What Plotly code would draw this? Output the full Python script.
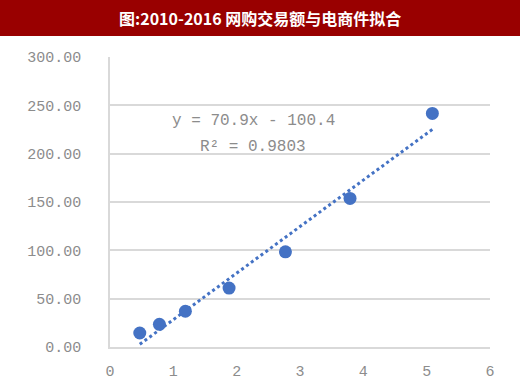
import numpy as np
import plotly.graph_objects as go

x_vals = [0.47, 0.78, 1.19, 1.88, 2.77, 3.79, 5.09]
y_vals = [14.5, 23.5, 37.0, 61.0, 98.5, 153.7, 241.6]
title_text = "图:2010-2016 网购交易额与电商件拟合"
eq_text = "y = 70.9x - 100.4"
r2_text = "R² = 0.9803"
x_ticks = [0, 1, 2, 3, 4, 5, 6]
y_ticks = [0, 50, 100, 150, 200, 250, 300]

blue = "#4472C4"
mono = "Liberation Mono, DejaVu Sans Mono, monospace"
gray = "#8c8c8c"

coef = np.polyfit(x_vals, y_vals, 1)
tx = [min(x_vals), max(x_vals)]
ty = [float(np.polyval(coef, v)) for v in tx]

fig = go.Figure()
fig.add_trace(go.Scatter(x=tx, y=ty, mode="lines",
                         line=dict(color=blue, width=3, dash="dot"),
                         hoverinfo="skip", showlegend=False))
fig.add_trace(go.Scatter(x=x_vals, y=y_vals, mode="markers",
                         marker=dict(color=blue, size=13),
                         showlegend=False))

L, R, T, B = 110, 30, 57, 41
W, H = 520, 388
pw, ph = W - L - R, H - T - B

fig.add_shape(type="rect", xref="paper", yref="paper",
              x0=-L / pw, x1=1 + R / pw,
              y0=1 + (T - 36) / ph, y1=1 + T / ph,
              fillcolor="#990000", line=dict(width=0), layer="above")
fig.add_annotation(xref="paper", yref="paper",
                   x=(W / 2 - L) / pw, y=1 + (T - 18) / ph,
                   text="<b>" + title_text + "</b>", showarrow=False,
                   font=dict(family="Noto Sans CJK SC", size=16, color="white"),
                   xanchor="center", yanchor="middle")
fig.add_annotation(x=2.26, y=233.7, text=eq_text, showarrow=False,
                   font=dict(family=mono, size=16, color=gray),
                   xanchor="center", yanchor="middle")
fig.add_annotation(x=2.26, y=206.8, text=r2_text, showarrow=False,
                   font=dict(family=mono, size=16, color=gray),
                   xanchor="center", yanchor="middle")

fig.update_layout(
    width=W, height=H,
    margin=dict(l=L, r=R, t=T, b=B),
    paper_bgcolor="white", plot_bgcolor="white",
    xaxis=dict(range=[0, 6], tickvals=x_ticks, showgrid=False,
               showline=True, linecolor="#d9d9d9", linewidth=1.5,
               ticks="", zeroline=False, ticklabelstandoff=9,
               automargin=False,
               tickfont=dict(family=mono, size=15, color=gray)),
    yaxis=dict(range=[0, 300], tickvals=y_ticks, tickformat=".2f",
               showgrid=True, gridcolor="#d9d9d9", gridwidth=1.5,
               showline=True, linecolor="#d9d9d9", linewidth=1.5,
               ticks="", zeroline=False, ticklabelstandoff=24,
               automargin=False,
               tickfont=dict(family=mono, size=15, color=gray)),
)

fig.write_html("out.html")
